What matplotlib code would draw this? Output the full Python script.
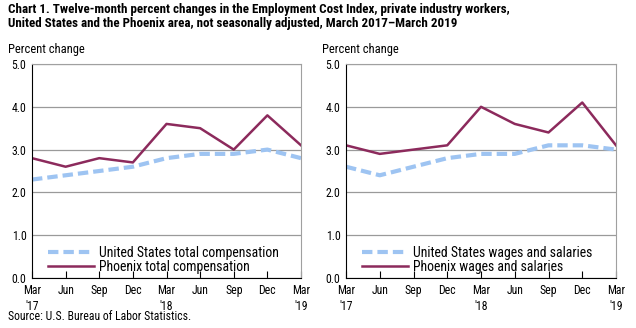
import matplotlib
matplotlib.use("Agg")
import matplotlib.pyplot as plt

plt.rcParams['font.family'] = ['Roboto Condensed', 'Liberation Sans', 'DejaVu Sans']

quarters = ["Mar\n'17", "Jun", "Sep", "Dec", "Mar\n'18", "Jun", "Sep", "Dec", "Mar\n'19"]
us_total = [2.3, 2.4, 2.5, 2.6, 2.8, 2.9, 2.9, 3.0, 2.8]
phx_total = [2.8, 2.6, 2.8, 2.7, 3.6, 3.5, 3.0, 3.8, 3.1]
us_wages = [2.6, 2.4, 2.6, 2.8, 2.9, 2.9, 3.1, 3.1, 3.0]
phx_wages = [3.1, 2.9, 3.0, 3.1, 4.0, 3.6, 3.4, 4.1, 3.1]
yticks = [0.0, 1.0, 2.0, 3.0, 4.0, 5.0]

US_COLOR = '#9ec4f2'
PHX_COLOR = '#8c2a5c'

fig = plt.figure(figsize=(6.36, 3.28), dpi=100)
W, H = 636, 328

def add_ax(x0, x1, y_top, y_bot):
    return fig.add_axes([x0 / W, 1 - y_bot / H, (x1 - x0) / W, (y_bot - y_top) / H])

panels = [
    (add_ax(32, 301, 64, 278), us_total, phx_total,
     'United States total compensation', 'Phoenix total compensation', 8),
    (add_ax(346, 616, 64, 278), us_wages, phx_wages,
     'United States wages and salaries', 'Phoenix wages and salaries', 322),
]

x = list(range(len(quarters)))
for ax, us, phx, us_lab, phx_lab, px in panels:
    ax.plot(x, us, color=US_COLOR, lw=3, ls=(0, (2.5, 1.2)), label=us_lab)
    ax.plot(x, phx, color=PHX_COLOR, lw=1.8, label=phx_lab)
    ax.set_xlim(0, len(quarters) - 1)
    ax.set_ylim(0, 5)
    ax.set_yticks(yticks)
    ax.set_yticklabels([f'{v:.1f}' for v in yticks], fontsize=8.5)
    ax.set_xticks(x)
    ax.set_xticklabels(quarters, fontsize=8.5, linespacing=1.25)
    ax.tick_params(axis='x', direction='in', length=5, pad=4.5, color='black')
    ax.tick_params(axis='y', length=0, pad=4)
    ax.grid(axis='y', color='#9a9a9a', lw=0.9)
    ax.set_axisbelow(True)
    for s in ['top', 'right']:
        ax.spines[s].set_color('#a0a0a0')
    for s in ['left', 'bottom']:
        ax.spines[s].set_color('black')
    leg = ax.legend(loc='lower left', bbox_to_anchor=(0.03, -0.02), frameon=False,
                    fontsize=9.9, handlelength=3.3, handletextpad=0.4,
                    labelspacing=0.0, borderaxespad=0.2)
    fig.text(px / W, 1 - 49 / H, 'Percent change', fontsize=9, ha='left', va='center')

fig.text(8 / W, 1 - 3 / H,
         'Chart 1. Twelve-month percent changes in the Employment Cost Index, private industry workers,\n'
         'United States and the Phoenix area, not seasonally adjusted, March 2017\u2013March 2019',
         fontsize=9.4, fontweight='bold', ha='left', va='top', linespacing=1.1)
fig.text(8 / W, 1 - 317 / H, 'Source: U.S. Bureau of Labor Statistics.', fontsize=8.5,
         ha='left', va='center')

fig.savefig('out.png', dpi=100)
